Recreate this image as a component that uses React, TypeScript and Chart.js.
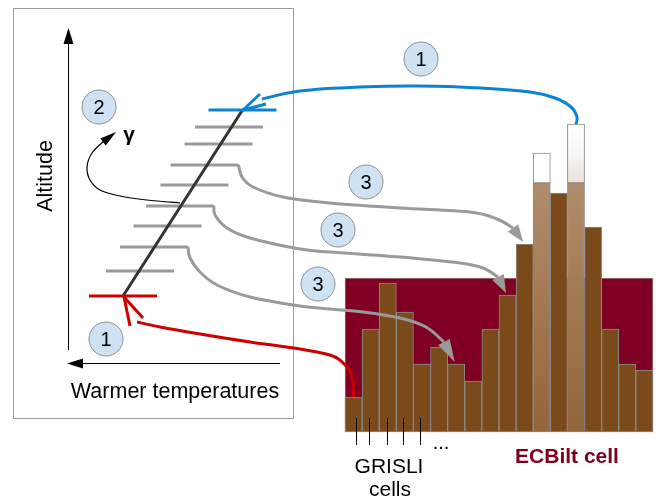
import React, { useEffect, useRef } from "react";
import { Chart, registerables } from "chart.js";

Chart.register(...registerables);

// ---------------- data (diagram units, y grows downward) ----------------
// Lapse-rate diagram: altitude levels and the temperature at each level
const levelAltitudes = [296, 271, 247, 226, 206, 185, 165, 144, 127, 110];
const levelTemperatures = [123, 140, 154, 167.5, 180, 194.5, 204.5, 218.5, 229, 242.5];
// GRISLI sub-grid cell elevations above the ECBilt base
const grisliHeights = [35, 103, 149, 120, 68, 85, 68, 51, 103, 137, 188, 249, 239, 249, 205, 103, 68, 62];
// extra column (white top) above the two highest cells, 0 = none
const snowHeights = [0, 0, 0, 0, 0, 0, 0, 0, 0, 0, 0, 279, 0, 308, 0, 0, 0, 0];
const highlightedCells = [11, 13];
const ecbiltHeight = 154;
// small GRISLI tick marks under the first cells
const grisliTickX = [356, 369, 387, 403, 420];
// level indices whose segment continues as a grey arrow, and target cells
const arrowLevels = [6, 4, 2];
const arrowTargets = [10, 9, 6];
const stepLabels = ["1", "2", "3", "3", "3", "1"];
const textLabels = ["Altitude", "Warmer temperatures", "GRISLI", "cells", "ECBilt cell", "γ", "..."];

// ---------------- layout constants ----------------
const CW = 656;
const CH = 500;
const PANEL_LEFT = 345;
const CELL_W = 17.11;
const BASE = 432;
const HALF = 34;
const FONT = '"Liberation Sans", Arial, sans-serif';

const cellCenter = (i: number) => PANEL_LEFT + (i + 0.5) * CELL_W;
const cellLeft = (i: number) => PANEL_LEFT + i * CELL_W;

type P = [number, number];

const diagramPlugin = {
  id: "diagram",
  beforeDatasetsDraw(chart: any) {
    const { ctx, scales } = chart;
    const sx = (v: number) => scales.x.getPixelForValue(v);
    const sy = (v: number) => scales.y.getPixelForValue(v);
    ctx.save();
    // left frame
    ctx.strokeStyle = "#9a9a9a";
    ctx.lineWidth = 1;
    ctx.strokeRect(Math.round(sx(13)) + 0.5, Math.round(sy(8)) + 0.5, Math.round(sx(293) - sx(13)), Math.round(sy(418) - sy(8)));
    // axes
    ctx.strokeStyle = "#000";
    ctx.fillStyle = "#000";
    ctx.beginPath();
    ctx.moveTo(sx(68) + 0.5, sy(350));
    ctx.lineTo(sx(68) + 0.5, sy(40));
    ctx.moveTo(sx(280), sy(363) + 0.5);
    ctx.lineTo(sx(80), sy(363) + 0.5);
    ctx.stroke();
    ctx.beginPath();
    ctx.moveTo(sx(68) + 0.5, sy(28));
    ctx.lineTo(sx(63) + 0.5, sy(44));
    ctx.lineTo(sx(73) + 0.5, sy(44));
    ctx.closePath();
    ctx.fill();
    ctx.beginPath();
    ctx.moveTo(sx(67), sy(363) + 0.5);
    ctx.lineTo(sx(83), sy(358) + 0.5);
    ctx.lineTo(sx(83), sy(368) + 0.5);
    ctx.closePath();
    ctx.fill();
    ctx.restore();
  },
  afterDatasetsDraw(chart: any) {
    const { ctx, scales } = chart;
    const sx = (v: number) => scales.x.getPixelForValue(v);
    const sy = (v: number) => scales.y.getPixelForValue(v);
    const tp = (p: P): P => [sx(p[0]), sy(p[1])];

    const spline = (pts: P[]) => {
      const q = pts.map(tp);
      ctx.beginPath();
      ctx.moveTo(q[0][0], q[0][1]);
      for (let i = 0; i < q.length - 1; i++) {
        const p0 = q[i - 1] || q[i];
        const p1 = q[i];
        const p2 = q[i + 1];
        const p3 = q[i + 2] || p2;
        ctx.bezierCurveTo(
          p1[0] + (p2[0] - p0[0]) / 6, p1[1] + (p2[1] - p0[1]) / 6,
          p2[0] - (p3[0] - p1[0]) / 6, p2[1] - (p3[1] - p1[1]) / 6,
          p2[0], p2[1]
        );
      }
      ctx.stroke();
    };
    const solidHead = (base: P, tip: P, hw: number, color: string) => {
      const [bx, by] = tp(base);
      const [tx, ty] = tp(tip);
      const dx = tx - bx, dy = ty - by;
      const L = Math.hypot(dx, dy);
      const nx = -dy / L, ny = dx / L;
      ctx.fillStyle = color;
      ctx.beginPath();
      ctx.moveTo(tx, ty);
      ctx.lineTo(bx + nx * hw, by + ny * hw);
      ctx.lineTo(bx - nx * hw, by - ny * hw);
      ctx.closePath();
      ctx.fill();
    };
    const openHead = (tip: P, a: P, b: P) => {
      const t = tp(tip), pa = tp(a), pb = tp(b);
      ctx.beginPath();
      ctx.moveTo(pa[0], pa[1]);
      ctx.lineTo(t[0], t[1]);
      ctx.lineTo(pb[0], pb[1]);
      ctx.stroke();
    };

    ctx.save();
    ctx.lineCap = "butt";
    ctx.lineJoin = "round";

    // GRISLI ticks
    ctx.strokeStyle = "#000";
    ctx.lineWidth = 1;
    ctx.beginPath();
    grisliTickX.forEach((x) => {
      ctx.moveTo(Math.round(sx(x)) + 0.5, sy(418));
      ctx.lineTo(Math.round(sx(x)) + 0.5, sy(445));
    });
    ctx.stroke();

    // grey arrows (step 3)
    const grey = "#9a9a9a";
    const greyPaths: P[][] = [
      [[242, 177], [253, 187], [283, 197], [330, 203], [400, 208], [470, 212], [497, 219], [513, 228]],
      [[215, 215], [227, 228], [250, 238], [300, 249], [330, 252], [400, 257], [460, 263], [483, 268], [498, 277]],
      [[190, 258], [200, 272], [217, 285], [250, 297], [300, 306], [330, 309], [363, 312], [400, 318], [426, 327], [444, 342]],
    ];
    ctx.strokeStyle = grey;
    ctx.lineWidth = 3;
    arrowLevels.forEach((lv, k) => {
      const start: P = [levelTemperatures[lv] + HALF, levelAltitudes[lv]];
      const pts = [start, ...greyPaths[k]];
      spline(pts);
      const ti = arrowTargets[k];
      const tip: P = [cellLeft(ti) + 7, BASE - grisliHeights[ti] - 2];
      solidHead(pts[pts.length - 1], tip, 6.5, grey);
    });

    // red arrow (step 1, bottom)
    const red = "#cc0000";
    ctx.strokeStyle = red;
    ctx.lineWidth = 3;
    spline([
      [cellCenter(0), BASE - grisliHeights[0]],
      [353, 383], [349, 370], [341, 361], [330, 355], [300, 349], [250, 342], [200, 334], [160, 327], [137, 322],
    ]);
    openHead([levelTemperatures[0] + 1, levelAltitudes[0] + 1], [130, 326], [143, 318]);

    // blue arrow (step 1, top)
    const blue = "#0a83d0";
    ctx.strokeStyle = blue;
    spline([
      [cellCenter(13), BASE - snowHeights[13]],
      [577, 117], [571, 107], [555, 98], [530, 92], [480, 88], [420, 86], [360, 87], [300, 91], [262, 99],
    ]);
    openHead([levelTemperatures[9] + 0.5, levelAltitudes[9]], [260, 94], [266, 104]);

    // gamma arrow (step 2)
    ctx.strokeStyle = "#000";
    ctx.lineWidth = 1.2;
    spline([[180, 203], [147, 200], [120, 196], [100, 190], [90, 180], [87, 167], [92, 153], [104, 141]]);
    solidHead([103, 142], [116, 132], 4.5, "#000");

    // numbered circles
    const circles: P[] = [[421, 59], [99, 107], [366, 182], [338, 230], [318, 284], [106, 339]];
    circles.forEach((c, i) => {
      const [cx, cy] = tp(c);
      ctx.beginPath();
      ctx.arc(cx, cy, 17, 0, Math.PI * 2);
      ctx.fillStyle = "#cfe2f3";
      ctx.fill();
      ctx.lineWidth = 1;
      ctx.strokeStyle = "#8e8e8e";
      ctx.stroke();
      ctx.fillStyle = "#000";
      ctx.font = `20px ${FONT}`;
      ctx.textAlign = "center";
      ctx.textBaseline = "alphabetic";
      ctx.fillText(stepLabels[i], cx, cy + 7);
    });

    // texts
    ctx.fillStyle = "#000";
    ctx.textAlign = "center";
    ctx.textBaseline = "alphabetic";
    ctx.font = `21.5px ${FONT}`;
    ctx.save();
    ctx.translate(sx(52), sy(176));
    ctx.rotate(-Math.PI / 2);
    ctx.fillText(textLabels[0], 0, 0);
    ctx.restore();
    ctx.fillText(textLabels[1], sx(175), sy(398));
    ctx.font = `21px ${FONT}`;
    ctx.fillText(textLabels[2], sx(389), sy(473));
    ctx.fillText(textLabels[3], sx(390), sy(496));
    ctx.font = `bold 21px ${FONT}`;
    ctx.fillStyle = "#800020";
    ctx.fillText(textLabels[4], sx(567), sy(463));
    ctx.fillStyle = "#000";
    ctx.font = `bold 21px ${FONT}`;
    ctx.fillText(textLabels[5], sx(129), sy(141));
    ctx.font = `20px ${FONT}`;
    ctx.fillText(textLabels[6], sx(441), sy(449));
    ctx.restore();
  },
};

export default function App() {
  const ref = useRef<HTMLCanvasElement | null>(null);

  useEffect(() => {
    document.body.style.margin = "0";
    const canvas = ref.current;
    if (!canvas) return;

    const brown = "#7b4a1b";
    const lightGradient = (c: any) => {
      const chart = c.chart;
      if (!chart.chartArea) return "#a57b55";
      const y = chart.scales.y;
      const i = c.dataIndex;
      const g = chart.ctx.createLinearGradient(0, y.getPixelForValue(BASE - grisliHeights[i]), 0, y.getPixelForValue(BASE));
      g.addColorStop(0, "#b18d6d");
      g.addColorStop(0.5, "#a27852");
      g.addColorStop(1, "#93653b");
      return g;
    };
    const snowGradient = (c: any) => {
      const chart = c.chart;
      const raw = c.raw;
      if (!chart.chartArea || !raw) return "#ffffff";
      const y = chart.scales.y;
      const top = raw.y[1];
      const bottom = raw.y[0];
      if (raw.cell !== 13) return "#ffffff";
      const g = chart.ctx.createLinearGradient(0, y.getPixelForValue(top), 0, y.getPixelForValue(bottom));
      g.addColorStop(0, "#ffffff");
      g.addColorStop(0.45, "#faf8f6");
      g.addColorStop(1, "#e9dfd6");
      return g;
    };

    const datasets: any[] = [];

    // ECBilt cell background
    datasets.push({
      type: "bar",
      data: [{ x: PANEL_LEFT + (grisliHeights.length / 2) * CELL_W, y: [BASE, BASE - ecbiltHeight] }],
      backgroundColor: "#7f0022",
      borderColor: "#a08080",
      borderWidth: 1,
      borderSkipped: false,
      barThickness: grisliHeights.length * CELL_W,
      grouped: false,
      order: 100,
    });
    // GRISLI cells
    datasets.push({
      type: "bar",
      data: grisliHeights.map((h, i) => ({ x: cellCenter(i), y: [BASE, BASE - h] })),
      backgroundColor: (c: any) => (highlightedCells.includes(c.dataIndex) ? lightGradient(c) : brown),
      borderColor: "#8a8a8a",
      borderWidth: 1,
      borderSkipped: false,
      barThickness: CELL_W,
      grouped: false,
      order: 90,
    });
    // white tops above highlighted cells
    datasets.push({
      type: "bar",
      data: highlightedCells.map((i) => ({ x: cellCenter(i), y: [BASE - grisliHeights[i], BASE - snowHeights[i]], cell: i })),
      backgroundColor: snowGradient,
      borderColor: "#8a8a8a",
      borderWidth: 1,
      borderSkipped: false,
      barThickness: CELL_W,
      grouped: false,
      order: 80,
    });
    // altitude level segments
    levelAltitudes.forEach((a, i) => {
      const t = levelTemperatures[i];
      const color = i === 0 ? "#cc0000" : i === levelAltitudes.length - 1 ? "#0a83d0" : "#9a9a9a";
      datasets.push({
        type: "line",
        data: [{ x: t - HALF, y: a }, { x: t + HALF, y: a }],
        borderColor: color,
        borderWidth: 3,
        pointRadius: 0,
        fill: false,
        borderCapStyle: "butt",
        order: i === 0 || i === levelAltitudes.length - 1 ? 5 : 20,
      });
    });
    // lapse-rate line
    datasets.push({
      type: "line",
      data: [
        { x: levelTemperatures[0], y: levelAltitudes[0] },
        { x: levelTemperatures[levelTemperatures.length - 1], y: levelAltitudes[levelAltitudes.length - 1] },
      ],
      borderColor: "#333333",
      borderWidth: 3,
      pointRadius: 0,
      fill: false,
      order: 10,
    });

    const chart = new Chart(canvas, {
      type: "scatter",
      data: { datasets },
      options: {
        animation: false,
        responsive: false,
        maintainAspectRatio: false,
        devicePixelRatio: 1,
        layout: { padding: 0 },
        events: [],
        plugins: { legend: { display: false }, tooltip: { enabled: false }, title: { display: false } },
        scales: {
          x: { type: "linear", min: 0, max: CW, display: false, offset: false, grace: 0 },
          y: { type: "linear", min: 0, max: CH, reverse: true, display: false, offset: false, grace: 0 },
        },
      },
      plugins: [diagramPlugin],
    } as any);

    return () => chart.destroy();
  }, []);

  return (
    <div style={{ width: CW, height: CH, background: "#fff" }}>
      <canvas ref={ref} width={CW} height={CH} style={{ display: "block" }} />
    </div>
  );
}
